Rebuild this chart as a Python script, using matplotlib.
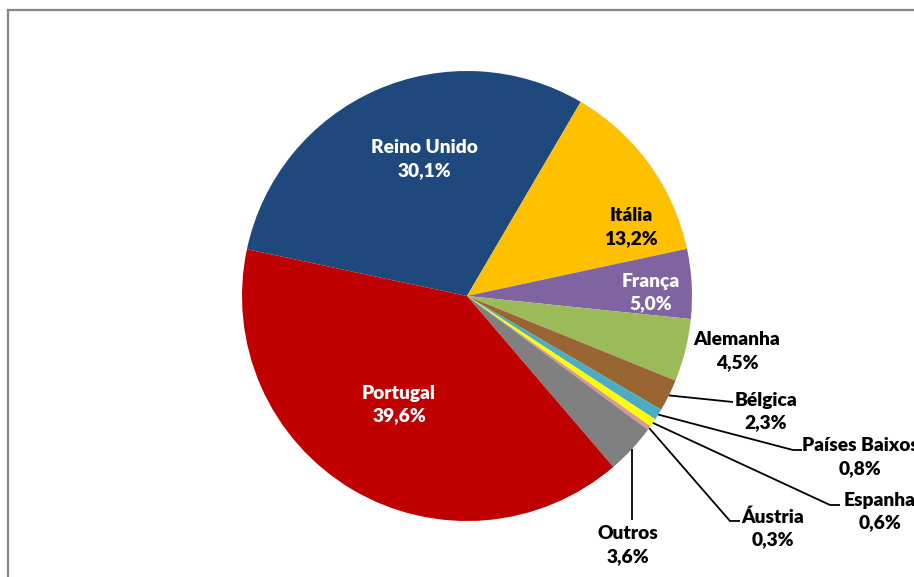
import numpy as np
import matplotlib
matplotlib.use("Agg")
import matplotlib.pyplot as plt
from matplotlib.lines import Line2D

categories = ["Reino Unido", "Itália", "França", "Alemanha", "Bélgica",
              "Países Baixos", "Espanha", "Áustria", "Outros", "Portugal"]
values = [30.1, 13.2, 5.0, 4.5, 2.3, 0.8, 0.6, 0.3, 3.6, 39.6]
labels = ["30,1%", "13,2%", "5,0%", "4,5%", "2,3%", "0,8%", "0,6%", "0,3%", "3,6%", "39,6%"]
colors = ["#1F497D", "#FFC000", "#8064A2", "#9BBB59", "#996633",
          "#4BACC6", "#FFFF00", "#DA9694", "#808080", "#C00000"]

W, H = 914, 577
fig = plt.figure(figsize=(W / 100, H / 100), dpi=100)
plt.rcParams['font.family'] = ['Lato', 'DejaVu Sans']

cx, cy, R = 467, 296, 225
ax = fig.add_axes([(cx - R) / W, (H - cy - R) / H, 2 * R / W, 2 * R / H])
wedges, _ = ax.pie(values, colors=colors, startangle=168, counterclock=False,
                   radius=1.0, wedgeprops=dict(linewidth=0))
ax.set_xlim(-1, 1)
ax.set_ylim(-1, 1)
ax.axis('off')

def px(x, y):
    return ((x - cx) / R, (cy - y) / R)

fs = 13.8
ls = 1.38
# inside labels
inside = {0: (424, 159, 'white'), 1: (631, 227, 'black'), 2: (651, 292.5, 'white'), 9: (399, 404.5, 'white')}
for i, (x, y, c) in inside.items():
    tx, ty = px(x, y)
    ax.text(tx, ty, f"{categories[i]}\n{labels[i]}", ha='center', va='center',
            color=c, fontsize=fs, fontweight='heavy', linespacing=ls)

# outside labels: text center, leader path (pixel points after the edge point)
outside = {
    3: ((737, 351), []),
    4: ((766, 411.5), [(733, 402)]),
    5: ((860, 457), [(793, 450), (802, 450)]),
    6: ((880, 511.5), [(830, 505), (840, 505)]),
    7: ((773, 528.5), [(730, 521), (740, 521)]),
    8: ((628, 545), None),
}
for i, (tpos, path) in outside.items():
    tx, ty = px(*tpos)
    ax.text(tx, ty, f"{categories[i]}\n{labels[i]}", ha='center', va='center',
            color='black', fontsize=fs, fontweight='heavy', linespacing=ls, clip_on=False)
    w = wedges[i]
    mid = np.deg2rad((w.theta1 + w.theta2) / 2)
    ex, ey = np.cos(mid) * 1.0, np.sin(mid) * 1.0
    if path is None:
        xs = [ex, ex]
        ys = [ey, px(0, 520)[1]]
    elif len(path) == 0:
        continue
    else:
        pts = [px(*p) for p in path]
        xs = [ex] + [p[0] for p in pts]
        ys = [ey] + [p[1] for p in pts]
    ax.plot(xs, ys, color='black', lw=1.3, clip_on=False, solid_capstyle='butt')

# chart border
fig.add_artist(Line2D([8 / W, 8 / W], [0, 1 - 10 / H], transform=fig.transFigure,
                      color='#868686', lw=1.6))
fig.add_artist(Line2D([8 / W, 1.0], [1 - 10 / H, 1 - 10 / H], transform=fig.transFigure,
                      color='#868686', lw=1.6))

fig.savefig("out.png", dpi=100)
